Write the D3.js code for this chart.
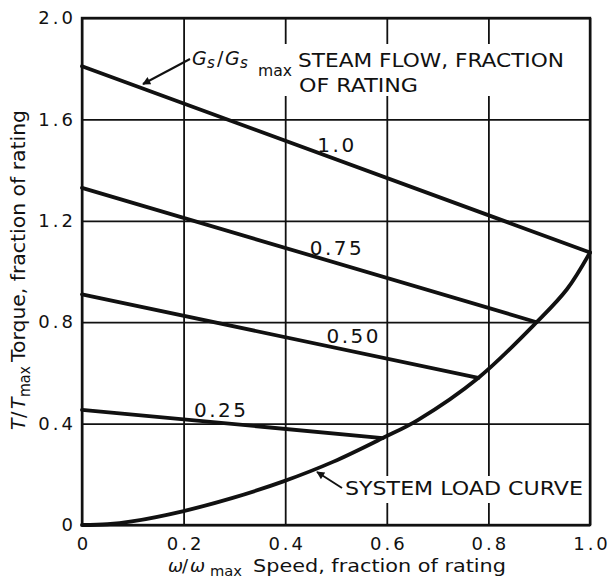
<!DOCTYPE html>
<html>
<head>
<meta charset="utf-8">
<script src="https://cdn.jsdelivr.net/npm/d3@7"></script>
<style>
  html, body { margin: 0; padding: 0; background: #fff; }
  svg { display: block; }
  text { font-family: "DejaVu Sans", "Liberation Sans", sans-serif; fill: #111; }
</style>
</head>
<body>
<svg id="chart" width="612" height="579"></svg>
<script>
// Axis ticks
const speedTicks = [0, 0.2, 0.4, 0.6, 0.8, 1.0];
const speedTickLabels = ["0", "0.2", "0.4", "0.6", "0.8", "1.0"];
const torqueTicks = [0, 0.4, 0.8, 1.2, 1.6, 2.0];
const torqueTickLabels = ["0", "0.4", "0.8", "1.2", "1.6", "2.0"];

// Turbine torque lines for each steam flow (fraction of rating)
const flowLabels = ["1.0", "0.75", "0.50", "0.25"];
const flowStartTorque = [1.81, 1.33, 0.91, 0.454];
const flowEndSpeed = [1.0, 0.895, 0.78, 0.592];
const flowEndTorque = [1.075, 0.80, 0.58, 0.343];

// System load curve
const loadSpeed = [0, 0.05, 0.098, 0.198, 0.295, 0.395, 0.494, 0.592, 0.661, 0.78, 0.895, 0.955, 1.0];
const loadTorque = [0, 0.003, 0.014, 0.054, 0.106, 0.171, 0.249, 0.343, 0.414, 0.58, 0.80, 0.931, 1.075];

const svg = d3.select("#chart");
const plotL = 82, plotR = 590, plotT = 18, plotB = 525;
const x = d3.scaleLinear().domain([0, 1]).range([plotL, plotR]);
const y = d3.scaleLinear().domain([0, 2]).range([plotB, plotT]);

// Grid + tick labels along the speed axis
const gx = svg.append("g").attr("transform", `translate(0,${plotB})`)
  .call(d3.axisBottom(x).tickValues(speedTicks)
    .tickFormat((d, i) => speedTickLabels[i])
    .tickSize(-(plotB - plotT)).tickPadding(12));
gx.select(".domain").remove();
gx.selectAll(".tick line").attr("stroke", "#111").attr("stroke-width", 1.8);
gx.selectAll(".tick text").attr("font-size", 18).attr("letter-spacing", 3)
  .attr("dx", 1.5).attr("fill", "#111");

// Grid + tick labels along the torque axis
const gy = svg.append("g").attr("transform", `translate(${plotL},0)`)
  .call(d3.axisLeft(y).tickValues(torqueTicks)
    .tickFormat((d, i) => torqueTickLabels[i])
    .tickSize(-(plotR - plotL)).tickPadding(9));
gy.select(".domain").remove();
gy.selectAll(".tick line").attr("stroke", "#111").attr("stroke-width", 1.8);
gy.selectAll(".tick text").attr("font-size", 18).attr("letter-spacing", 3)
  .attr("dx", 3).attr("fill", "#111");

// Clear space behind the lettered notes
svg.append("rect").attr("x", 255).attr("y", 44).attr("width", 316).attr("height", 52).attr("fill", "#fff");
svg.append("rect").attr("x", 340).attr("y", 476).attr("width", 246).attr("height", 27).attr("fill", "#fff");

// Frame
svg.append("rect").attr("x", plotL).attr("y", plotT)
  .attr("width", plotR - plotL).attr("height", plotB - plotT)
  .attr("fill", "none").attr("stroke", "#111").attr("stroke-width", 2.4);

// Steam-flow torque lines
const lineGen = d3.line().x(d => x(d[0])).y(d => y(d[1]));
flowLabels.forEach((lab, i) => {
  svg.append("path")
    .attr("d", lineGen([[0, flowStartTorque[i]], [flowEndSpeed[i], flowEndTorque[i]]]))
    .attr("fill", "none").attr("stroke", "#111").attr("stroke-width", 3.8)
    .attr("stroke-linecap", "round");
});

// Load curve
const loadPts = loadSpeed.map((s, i) => [s, loadTorque[i]]);
svg.append("path")
  .attr("d", d3.line().x(d => x(d[0])).y(d => y(d[1])).curve(d3.curveCatmullRom.alpha(0.5))(loadPts))
  .attr("fill", "none").attr("stroke", "#111").attr("stroke-width", 3.8)
  .attr("stroke-linecap", "round");

// Flow labels along the lines
const flowLabelAt = [[0.502, 1.471], [0.502, 1.065], [0.535, 0.718], [0.274, 0.426]];
flowLabels.forEach((lab, i) => {
  svg.append("text")
    .attr("x", x(flowLabelAt[i][0])).attr("y", y(flowLabelAt[i][1]))
    .attr("text-anchor", "middle").attr("font-size", 20).attr("letter-spacing", 2.5)
    .text(lab);
});

// Arrow heads
svg.append("defs").append("marker")
  .attr("id", "arrow").attr("viewBox", "0 0 10 10")
  .attr("refX", 9).attr("refY", 5)
  .attr("markerWidth", 10).attr("markerHeight", 8)
  .attr("markerUnits", "userSpaceOnUse")
  .attr("orient", "auto")
  .append("path").attr("d", "M0,0 L10,5 L0,10 Z").attr("fill", "#111");

svg.append("line").attr("x1", 190).attr("y1", 59).attr("x2", 143).attr("y2", 84)
  .attr("stroke", "#111").attr("stroke-width", 2).attr("marker-end", "url(#arrow)");
svg.append("line").attr("x1", 342).attr("y1", 488).attr("x2", 317).attr("y2", 472)
  .attr("stroke", "#111").attr("stroke-width", 2).attr("marker-end", "url(#arrow)");

// Steam flow note: Gs/Gs max
const note = svg.append("g");
note.append("text").attr("x", 192).attr("y", 65).attr("font-size", 19).attr("font-style", "italic").text("G");
note.append("text").attr("x", 207).attr("y", 68).attr("font-size", 15).attr("font-style", "italic").text("s");
note.append("text").attr("x", 217).attr("y", 65).attr("font-size", 19).text("/");
note.append("text").attr("x", 225).attr("y", 65).attr("font-size", 19).attr("font-style", "italic").text("G");
note.append("text").attr("x", 240).attr("y", 68).attr("font-size", 15).attr("font-style", "italic").text("s");
note.append("text").attr("x", 258).attr("y", 76).attr("font-size", 16)
  .attr("textLength", 34).attr("lengthAdjust", "spacingAndGlyphs").text("max");
svg.append("text").attr("x", 298).attr("y", 67).attr("font-size", 20)
  .attr("textLength", 266).attr("lengthAdjust", "spacingAndGlyphs").text("STEAM FLOW, FRACTION");
svg.append("text").attr("x", 299).attr("y", 92).attr("font-size", 20)
  .attr("textLength", 119).attr("lengthAdjust", "spacingAndGlyphs").text("OF RATING");

// Load curve note
svg.append("text").attr("x", 345).attr("y", 495).attr("font-size", 20)
  .attr("textLength", 238).attr("lengthAdjust", "spacingAndGlyphs").text("SYSTEM LOAD CURVE");

// Speed axis title
const xt = svg.append("g");
xt.append("text").attr("x", 168).attr("y", 572).attr("font-size", 18).attr("font-style", "italic").text("ω");
xt.append("text").attr("x", 182).attr("y", 572).attr("font-size", 18).text("/");
xt.append("text").attr("x", 190).attr("y", 572).attr("font-size", 18).attr("font-style", "italic").text("ω");
xt.append("text").attr("x", 210).attr("y", 576).attr("font-size", 14)
  .attr("textLength", 32).attr("lengthAdjust", "spacingAndGlyphs").text("max");
svg.append("text").attr("x", 253).attr("y", 572).attr("font-size", 18)
  .attr("textLength", 253).attr("lengthAdjust", "spacingAndGlyphs").text("Speed, fraction of rating");

// Torque axis title (rotated)
const yt = svg.append("g").attr("transform", "translate(25,0) rotate(-90)");
yt.append("text").attr("x", -430).attr("y", 0).attr("font-size", 19).attr("font-style", "italic").text("T");
yt.append("text").attr("x", -418).attr("y", 0).attr("font-size", 19).text("/");
yt.append("text").attr("x", -409).attr("y", 0).attr("font-size", 19).attr("font-style", "italic").text("T");
yt.append("text").attr("x", -397).attr("y", 5).attr("font-size", 15)
  .attr("textLength", 31).attr("lengthAdjust", "spacingAndGlyphs").text("max");
yt.append("text").attr("x", -362).attr("y", 0).attr("font-size", 19)
  .attr("textLength", 252).attr("lengthAdjust", "spacingAndGlyphs").text("Torque, fraction of rating");
</script>
</body>
</html>
